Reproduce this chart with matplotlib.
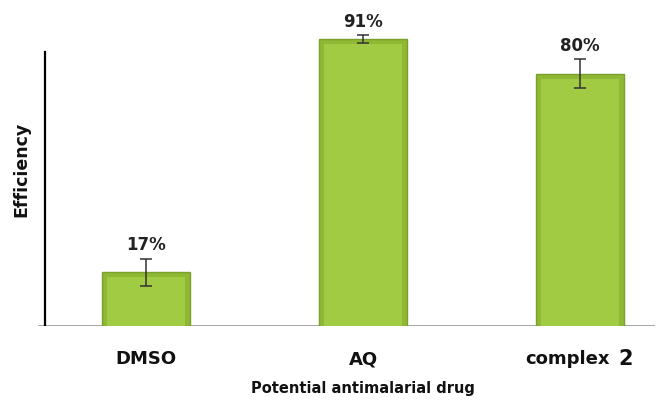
import numpy as np
import matplotlib.pyplot as plt

drugs = ["DMSO", "AQ", "complex"]
efficiency = [17, 91, 80]
errors = [4.4, 1.3, 4.6]
value_labels = ["17%", "91%", "80%"]

fig = plt.figure(figsize=(6.61, 4.01), dpi=100)
ax = fig.add_axes([38/661, 1 - 326/401, (655-38)/661, 326/401])

x = np.arange(len(drugs))
ax.bar(x, efficiency, width=0.405, color='#8fb935', edgecolor='#7a9f2b', linewidth=1.0, zorder=2)
# lighter inner face for the bevelled look
ax.bar(x, np.array(efficiency) - 1.6, width=0.36, color='#a2cb44', linewidth=0, zorder=2)
ax.errorbar(x, efficiency, yerr=errors, fmt='none', ecolor='#333333', elinewidth=1.1, capsize=4, capthick=1.1, zorder=3)

for xi, v, e, lab in zip(x, efficiency, errors, value_labels):
    ax.text(xi, v + e + 1.4, lab, ha='center', va='bottom', fontsize=12, fontweight='bold', color='#222222')

ax.set_xlim(-0.498, 2.346)
ax.set_ylim(0, 103.4)

# axis lines
ax.axhline(0, color='#999999', linewidth=1.2, zorder=1)
ax.plot([-0.465, -0.465], [0, 87], color='black', linewidth=1.6, zorder=1)

for s in ax.spines.values():
    s.set_visible(False)
ax.set_xticks([])
ax.set_yticks([])

# category labels
for xi, name in zip(x, drugs):
    if name == "complex":
        ax.text(xi + 0.138, -10.5, name, ha='right', va='center', fontsize=13, fontweight='bold', color='#111111')
        ax.text(xi + 0.175, -10.5, "2", ha='left', va='center', fontsize=15, fontweight='bold', color='#111111')
    else:
        ax.text(xi, -10.5, name, ha='center', va='center', fontsize=13, fontweight='bold', color='#111111')

fig.text(363/661, 1 - 388/401, "Potential antimalarial drug", ha='center', va='center', fontsize=10.5, fontweight='bold', color='#111111')
fig.text(21/661, 1 - 169/401, "Efficiency", ha='center', va='center', rotation=90, fontsize=12.5, fontweight='bold', color='#111111')

fig.savefig("out.png", dpi=100)
